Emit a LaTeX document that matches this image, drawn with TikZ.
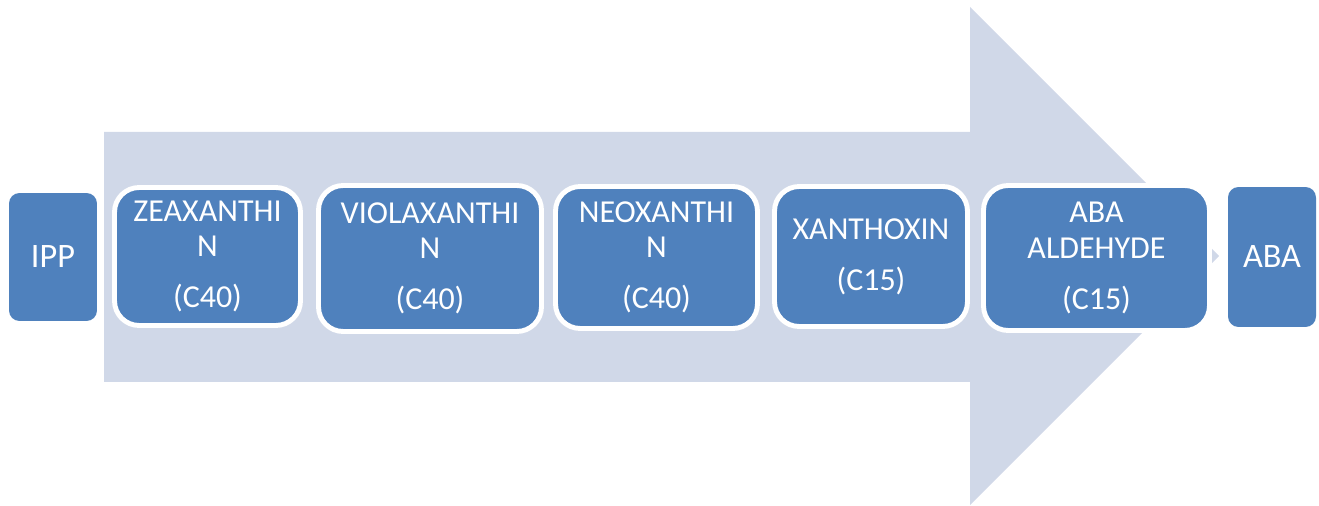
\documentclass[tikz,border=0pt]{standalone}
\usepackage{fontspec}
\setmainfont{Carlito}
\definecolor{boxblue}{HTML}{4F81BD}
\definecolor{arrowfill}{HTML}{D0D8E8}
\tikzset{
  stagebox/.style={rectangle, rounded corners=14pt, fill=boxblue, draw=white, line width=2.8pt,
    text=white, align=center, inner sep=0pt, font=\fontsize{18.2}{20}\selectfont},
  endbox/.style={rectangle, rounded corners=6pt, fill=boxblue, draw=none,
    text=white, align=center, inner sep=0pt, font=\fontsize{19.5}{21}\selectfont},
  bigarrow/.style={fill=arrowfill, draw=none}
}
\begin{document}
\begin{tikzpicture}[x=0.02cm, y=-0.02cm]
\useasboundingbox (0,0) rectangle (1319,506);
% big background arrow
\coordinate (a1) at (104,132);
\coordinate (a2) at (970,132);
\coordinate (a3) at (970,7);
\coordinate (tip) at (1219,256);
\coordinate (a5) at (970,505);
\coordinate (a6) at (970,382);
\coordinate (a7) at (104,382);
\fill[bigarrow] (a1) -- (a2) -- (a3) -- (tip) -- (a5) -- (a6) -- (a7) -- cycle;
% end boxes
\node[endbox, minimum width=1.76cm, minimum height=2.56cm] (ipp) at (53,257) {IPP};
\node[endbox, minimum width=1.76cm, minimum height=2.80cm] (aba) at (1272,257) {ABA};
% stage boxes
\node[stagebox, minimum width=3.72cm, minimum height=2.76cm] (zea) at (207.5,256.5) {ZEAXANTHI\\N\\[9pt](C40)};
\node[stagebox, minimum width=4.46cm, minimum height=2.92cm] (vio) at (430,258.5) {VIOLAXANTHI\\N\\[9pt](C40)};
\node[stagebox, minimum width=4.04cm, minimum height=2.84cm] (neo) at (656.5,257.5) {NEOXANTHI\\N\\[9pt](C40)};
\node[stagebox, minimum width=3.86cm, minimum height=2.80cm] (xan) at (871,256.5) {XANTHOXIN\\[9pt](C15)};
\node[stagebox, minimum width=4.52cm, minimum height=2.90cm] (ald) at (1096.5,258) {ABA\\ALDEHYDE\\[9pt](C15)};
\end{tikzpicture}
\end{document}
